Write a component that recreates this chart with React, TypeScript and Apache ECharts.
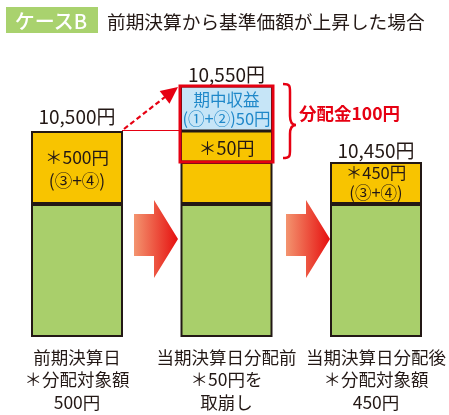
import React, { useEffect, useRef } from "react";
import * as echarts from "echarts";

// Schematic segment heights (chart is illustrative, not to scale)
const categories = ["前期決算日", "当期決算日分配前", "当期決算日分配後"];
const baseValues = [133, 133, 133]; // green block
const yellowValues = [73, 42, 42]; // 分配対象額
const drawnValues = [0, 31, 0]; // ＊50円 取崩し部分
const incomeValues = [0, 45, 0]; // 期中収益
const totalLabels = ["10,500円", "10,550円", "10,450円"];
const yellowLabels = ["＊500円\n(③+④)", "", "＊450円\n(③+④)"];
const drawnLabels = ["", "＊50円", ""];
const incomeLabels = ["", "期中収益\n(①+②)50円", ""];
const bottomLabels = [
  ["前期決算日", "＊分配対象額", "500円"],
  ["当期決算日分配前", "＊50円を", "取崩し"],
  ["当期決算日分配後", "＊分配対象額", "450円"],
];

const FONT = "'Noto Sans CJK JP', 'Noto Sans', sans-serif";
const DARK = "#231815";
const RED = "#e60012";

const braceD =
  "M283,84 C290,84 290,86 290,92 L290,116 C290,122 292,125 296,125 C292,125 290,128 290,134 L290,150 C290,156 290,158 283,158";

function arrowPoints(dx: number) {
  return [
    [134 + dx, 214],
    [154 + dx, 214],
    [154 + dx, 200],
    [178 + dx, 239],
    [154 + dx, 278],
    [154 + dx, 256],
    [134 + dx, 256],
  ];
}

export default function App() {
  const ref = useRef<HTMLDivElement>(null);
  useEffect(() => {
    if (!ref.current) return;
    echarts.graphic.registerShape("brace", echarts.graphic.extendPath(braceD, {}) as any);
    const chart = echarts.init(ref.current, undefined, { renderer: "svg" });
    const totals = baseValues.map(
      (v, i) => v + yellowValues[i] + drawnValues[i] + incomeValues[i]
    );
    const frameData = [[1, baseValues[1] + yellowValues[1], totals[1]]];
    const segStyle = (color: string) => ({
      color,
      borderColor: DARK,
      borderWidth: 2,
    });
    const arrowFill = {
      type: "linear",
      x: 0,
      y: 0,
      x2: 1,
      y2: 0,
      colorStops: [
        { offset: 0, color: "#f3946f" },
        { offset: 1, color: "#e6100f" },
      ],
    };
    chart.setOption({
      animation: false,
      grid: { left: 77, right: 68, top: 37, bottom: 78, containLabel: false },
      xAxis: {
        type: "category",
        data: categories,
        boundaryGap: false,
        axisLine: { show: false },
        axisTick: { show: false },
        splitLine: { show: false },
        axisLabel: {
          interval: 0,
          margin: 8,
          fontFamily: FONT,
          fontSize: 17.5,
          lineHeight: 22.5,
          color: DARK,
          formatter: (_v: string, i: number) => bottomLabels[i].join("\n"),
        },
      },
      yAxis: { type: "value", min: 0, max: 300, show: false },
      series: [
        {
          type: "bar",
          stack: "a",
          barWidth: 92,
          clip: false,
          itemStyle: segStyle("#a9cf6b"),
          data: baseValues,
        },
        {
          type: "bar",
          stack: "a",
          barWidth: 92,
          clip: false,
          itemStyle: segStyle("#f8c400"),
          data: yellowValues.map((v, i) => ({
            value: v,
            label: {
              show: yellowLabels[i] !== "",
              position: "inside",
              offset: [0, i === 0 ? 0 : -1],
              formatter: yellowLabels[i],
              fontFamily: FONT,
              fontSize: i === 0 ? 17.5 : 16.5,
              lineHeight: i === 0 ? 23 : 19.5,
              color: DARK,
            },
          })),
        },
        {
          type: "bar",
          stack: "a",
          barWidth: 92,
          clip: false,
          itemStyle: segStyle("#f8c400"),
          data: drawnValues.map((v, i) => ({
            value: v,
            itemStyle: { borderWidth: v ? 1.5 : 0 },
            label: {
              show: drawnLabels[i] !== "",
              position: "inside",
              formatter: drawnLabels[i],
              fontFamily: FONT,
              fontSize: 18,
              color: DARK,
            },
          })),
        },
        {
          type: "bar",
          stack: "a",
          barWidth: 92,
          clip: false,
          itemStyle: segStyle("#c6e5f7"),
          data: incomeValues.map((v, i) => ({
            value: v,
            itemStyle: { borderWidth: v ? 1.5 : 0 },
            label: {
              show: incomeLabels[i] !== "",
              position: "inside",
              formatter: incomeLabels[i],
              fontFamily: FONT,
              fontSize: 16.5,
              lineHeight: 19.5,
              color: "#1f88c9",
            },
          })),
        },
        {
          type: "bar",
          stack: "a",
          barWidth: 92,
          clip: false,
          itemStyle: { color: "rgba(0,0,0,0)", borderWidth: 0 },
          data: totalLabels.map((t, i) => ({
            value: 0,
            label: {
              show: true,
              position: "top",
              distance: i === 0 ? 6 : 3,
              formatter: t,
              fontFamily: FONT,
              fontSize: 19,
              color: DARK,
            },
          })),
        },
        {
          type: "custom",
          z: 10,
          data: frameData,
          renderItem: (_p: any, api: any) => {
            const x = api.value(0);
            const lo = api.coord([x, api.value(1)]);
            const hi = api.coord([x, api.value(2)]);
            return {
              type: "rect",
              shape: { x: lo[0] - 46.5, y: hi[1], width: 93, height: lo[1] - hi[1] },
              style: { fill: "none", stroke: RED, lineWidth: 3 },
            };
          },
        },
      ],
      graphic: [
        {
          type: "rect",
          shape: { x: 6, y: 7, width: 92, height: 26 },
          style: { fill: "#a9d26e" },
        },
        {
          type: "text",
          x: 51,
          y: 20,
          style: {
            text: "ケースB",
            fill: "#ffffff",
            font: `500 20px ${FONT}`,
            align: "center",
            verticalAlign: "middle",
          },
        },
        {
          type: "text",
          x: 107,
          y: 20,
          style: {
            text: "前期決算から基準価額が上昇した場合",
            fill: DARK,
            font: `18.7px ${FONT}`,
            align: "left",
            verticalAlign: "middle",
          },
        },
        {
          type: "polygon",
          shape: { points: arrowPoints(0) },
          style: { fill: arrowFill },
        },
        {
          type: "polygon",
          shape: { points: arrowPoints(152) },
          style: { fill: arrowFill },
        },
        {
          type: "line",
          shape: { x1: 122, y1: 130.5, x2: 183, y2: 130.5 },
          style: { stroke: RED, lineWidth: 1 },
        },
        {
          type: "line",
          shape: { x1: 124, y1: 129, x2: 165, y2: 97 },
          style: { stroke: RED, lineWidth: 2.2, lineDash: [5, 3] },
        },
        {
          type: "polygon",
          shape: { points: [[178, 87], [169.5, 103.7], [159.7, 91.1]] },
          style: { fill: RED },
        },
        {
          type: "brace",
          style: { fill: "none", stroke: RED, lineWidth: 2.5 },
        },
        {
          type: "text",
          x: 299,
          y: 112,
          style: {
            text: "分配金100円",
            fill: RED,
            font: `bold 17.5px ${FONT}`,
            align: "left",
            verticalAlign: "middle",
          },
        },
      ],
    });
    return () => chart.dispose();
  }, []);
  return (
    <div
      ref={ref}
      style={{ position: "fixed", left: 0, top: 0, width: 449, height: 415 }}
    />
  );
}
